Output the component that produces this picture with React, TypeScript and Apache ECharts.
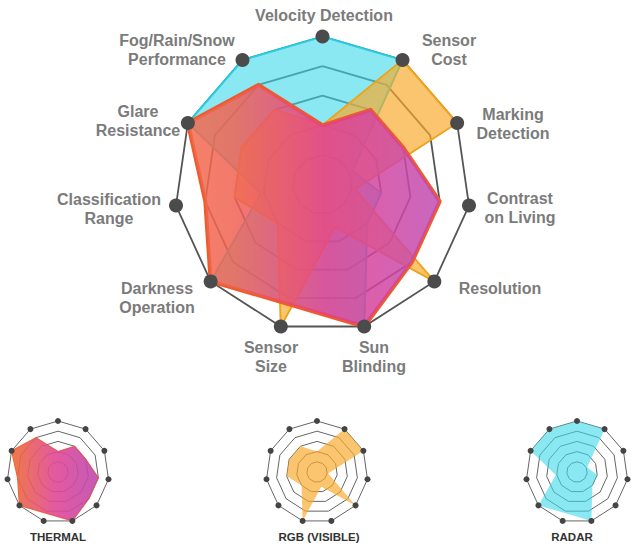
import React, { useEffect, useRef } from 'react';
import * as echarts from 'echarts';

// Indicators in ECharts order (counter-clockwise starting at the top)
const INDICATORS = [
  'Velocity Detection',
  'Fog/Rain/Snow\nPerformance',
  'Glare\nResistance',
  'Classification\nRange',
  'Darkness\nOperation',
  'Sensor\nSize',
  'Sun\nBlinding',
  'Resolution',
  'Contrast\non Living',
  'Marking\nDetection',
  'Sensor\nCost',
];
const MAX = 5;
const THERMAL = [2, 4, 5, 4, 5, 4.2, 5, 4, 4, 3, 3];
const RGB = [2, 3, 3, 3, 2, 5, 1.5, 5, 1.1, 5, 5];
const RADAR = [5, 5, 5, 2.1, 5, 4.2, 5, 2.0, 2.0, 1.1, 5];
const OUTER = INDICATORS.map(() => MAX);
const SMALL_TITLES = ['THERMAL', 'RGB (VISIBLE)', 'RADAR'];

// layout only
const LABEL_POS = [
  [324, 15], [177, 50], [138, 121], [109, 209], [157, 298], [271, 357],
  [374, 357], [500, 288], [520, 208], [513, 124], [449, 50],
];
const SMALL_CENTERS = [[58, 472], [317, 472], [577, 472]];
const SMALL_TITLE_X = [58, 319, 572];

const CYAN = { fill: '#3cd8ea', border: '#27c3d9' };
const ORANGE = { fill: '#f8a92a', border: '#e8a218' };

function baseRadar(center: number[], radius: number, lineColor: string, lineWidth: number) {
  return {
    center,
    radius,
    startAngle: 90,
    splitNumber: 5,
    shape: 'polygon',
    indicator: INDICATORS.map((n) => ({ name: n, max: MAX, min: 0 })),
    axisName: { show: false },
    axisLine: { show: false },
    axisTick: { show: false },
    axisLabel: { show: false },
    splitArea: { show: false },
    splitLine: { lineStyle: { color: lineColor, width: lineWidth } },
  };
}

export default function App() {
  const ref = useRef<HTMLDivElement>(null);
  useEffect(() => {
    if (!ref.current) return;
    const chart = echarts.init(ref.current, undefined, { renderer: 'svg' });

    const thermalMain = new echarts.graphic.LinearGradient(0, 0, 1, 0, [
      { offset: 0, color: '#f26c4e' },
      { offset: 0.18, color: '#f06252' },
      { offset: 0.55, color: '#e33d8f' },
      { offset: 1, color: '#bf4db4' },
    ]);
    const thermalSmall = new echarts.graphic.LinearGradient(0, 0, 1, 0, [
      { offset: 0, color: '#ee6b34' },
      { offset: 0.5, color: '#e04895' },
      { offset: 1, color: '#bd48b0' },
    ]);

    const dots = (radarIndex: number, size: number, color: string) => ({
      type: 'radar',
      radarIndex,
      silent: true,
      symbol: 'circle',
      symbolSize: size,
      itemStyle: { color },
      lineStyle: { width: 0, opacity: 0 },
      data: [{ value: OUTER }],
    });

    const FONT = '"Liberation Sans", Arial, sans-serif';

    const option: any = {
      animation: false,
      radar: [
        baseRadar([322.5, 184.5], 148, '#555555', 1.8),
        ...SMALL_CENTERS.map((c) => baseRadar(c, 51, '#666666', 1)),
      ],
      series: [
        {
          type: 'radar', radarIndex: 0, symbol: 'none', silent: true,
          lineStyle: { color: CYAN.border, width: 2 },
          areaStyle: { color: CYAN.fill, opacity: 0.6 },
          data: [{ value: RADAR, name: 'RADAR' }],
        },
        {
          type: 'radar', radarIndex: 0, symbol: 'none', silent: true,
          lineStyle: { color: ORANGE.border, width: 2 },
          areaStyle: { color: ORANGE.fill, opacity: 0.68 },
          data: [{ value: RGB, name: 'RGB (VISIBLE)' }],
        },
        {
          type: 'radar', radarIndex: 0, symbol: 'none', silent: true,
          lineStyle: { color: '#ef5a2a', width: 4 },
          areaStyle: { color: thermalMain, opacity: 0.85 },
          data: [{ value: THERMAL, name: 'THERMAL' }],
        },
        dots(0, 14, '#4b4b4b'),
        {
          type: 'radar', radarIndex: 1, symbol: 'none', silent: true,
          lineStyle: { color: '#f0642a', width: 1.2 },
          areaStyle: { color: thermalSmall, opacity: 0.9 },
          data: [{ value: THERMAL }],
        },
        {
          type: 'radar', radarIndex: 2, symbol: 'none', silent: true,
          lineStyle: { width: 0, opacity: 0 },
          areaStyle: { color: ORANGE.fill, opacity: 0.68 },
          data: [{ value: RGB }],
        },
        {
          type: 'radar', radarIndex: 3, symbol: 'none', silent: true,
          lineStyle: { width: 0, opacity: 0 },
          areaStyle: { color: CYAN.fill, opacity: 0.6 },
          data: [{ value: RADAR }],
        },
        dots(1, 6, '#444444'),
        dots(2, 6, '#444444'),
        dots(3, 6, '#444444'),
      ],
      graphic: [
        ...INDICATORS.map((name, i) => ({
          type: 'text',
          x: LABEL_POS[i][0],
          y: LABEL_POS[i][1],
          silent: true,
          style: {
            text: name,
            fill: '#7b7b7b',
            fontFamily: FONT,
            fontWeight: 'bold',
            fontSize: 16,
            lineHeight: 19.5,
            align: 'center',
            verticalAlign: 'middle',
          },
        })),
        ...SMALL_TITLES.map((t, i) => ({
          type: 'text',
          x: SMALL_TITLE_X[i],
          y: 537,
          silent: true,
          style: {
            text: t,
            fill: '#333333',
            fontFamily: FONT,
            fontWeight: 'bold',
            fontSize: 11.5,
            align: 'center',
            verticalAlign: 'middle',
          },
        })),
      ],
    };
    chart.setOption(option);
    return () => chart.dispose();
  }, []);
  return (
    <div
      ref={ref}
      style={{ position: 'fixed', left: 0, top: 0, width: 640, height: 550, background: '#ffffff' }}
    />
  );
}
